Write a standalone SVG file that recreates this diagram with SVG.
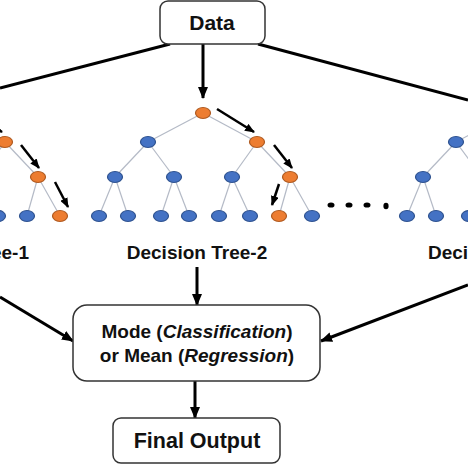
<svg xmlns="http://www.w3.org/2000/svg" width="468" height="468" viewBox="0 0 468 468">
<defs>
<marker id="ah" markerUnits="userSpaceOnUse" markerWidth="12" markerHeight="10" refX="11" refY="5" orient="auto">
<path d="M0,0 L12,5 L0,10 z" fill="#000"/>
</marker>
<marker id="ahs" markerUnits="userSpaceOnUse" markerWidth="10" markerHeight="8" refX="9" refY="4" orient="auto">
<path d="M0,0 L10,4 L0,8 z" fill="#000"/>
</marker>
<style>
.box{fill:#fff;stroke:#333;stroke-width:1.5}
.lbl{font-family:"Liberation Sans",Arial,sans-serif;font-weight:bold;fill:#111;text-anchor:middle}
.con{stroke:#000;stroke-width:3;fill:none}
.ta{stroke:#000;stroke-width:2.5;fill:none;marker-end:url(#ahs)}
.e{stroke:#b4bac6;stroke-width:1.2}
.b{fill:#4472c4;stroke:#2f528f;stroke-width:1.2}
.o{fill:#ed7d31;stroke:#ae5a21;stroke-width:1.2}
.dot{fill:#000}
</style>
</defs>
<rect width="468" height="468" fill="#fff"/>

<g id="connectors">
<line class="con" x1="170" y1="44" x2="0" y2="88"/>
<line class="con" x1="258" y1="44" x2="468" y2="100"/>
<line class="con" x1="203" y1="44" x2="203" y2="98" marker-end="url(#ah)"/>
<line class="con" x1="0" y1="297" x2="73" y2="341" marker-end="url(#ah)"/>
<line class="con" x1="468" y1="285" x2="321" y2="341" marker-end="url(#ah)"/>
<line class="con" x1="197" y1="267" x2="197" y2="305" marker-end="url(#ah)"/>
<line class="con" x1="195" y1="381" x2="195" y2="418" marker-end="url(#ah)"/>
</g>

<g id="data">
<rect class="box" x="160" y="1" width="105" height="43" rx="8"/>
<text class="lbl" x="212" y="30" font-size="21">Data</text>
</g>

<g id="tree1">
<g class="e">
<line x1="-49" y1="113" x2="5" y2="142"/>
<line x1="5" y1="142" x2="-20" y2="177"/>
<line x1="5" y1="142" x2="38" y2="177"/>
<line x1="-20" y1="177" x2="-2" y2="216"/>
<line x1="38" y1="177" x2="27" y2="216"/>
<line x1="38" y1="177" x2="60" y2="216"/>
</g>
<ellipse class="o" cx="5" cy="142" rx="7.5" ry="5.5"/>
<ellipse class="o" cx="38" cy="177" rx="7.5" ry="5.5"/>
<ellipse class="b" cx="-2" cy="216" rx="7.5" ry="5.5"/>
<ellipse class="b" cx="27" cy="216" rx="7.5" ry="5.5"/>
<ellipse class="o" cx="60" cy="216" rx="7.5" ry="5.5"/>
<line class="ta" x1="-35" y1="109" x2="2" y2="132"/>
<line class="ta" x1="21" y1="145" x2="39" y2="168"/>
<line class="ta" x1="55" y1="182" x2="68" y2="207"/>
<text class="lbl" x="29" y="259" font-size="19" style="text-anchor:end">ee-1</text>
</g>

<g id="tree2">
<g class="e">
<line x1="203" y1="113" x2="148" y2="142"/>
<line x1="203" y1="113" x2="257" y2="142"/>
<line x1="148" y1="142" x2="115" y2="177"/>
<line x1="148" y1="142" x2="174" y2="177"/>
<line x1="257" y1="142" x2="232" y2="177"/>
<line x1="257" y1="142" x2="290" y2="177"/>
<line x1="115" y1="177" x2="99" y2="216"/>
<line x1="115" y1="177" x2="128" y2="216"/>
<line x1="174" y1="177" x2="161" y2="216"/>
<line x1="174" y1="177" x2="189" y2="216"/>
<line x1="232" y1="177" x2="219" y2="216"/>
<line x1="232" y1="177" x2="250" y2="216"/>
<line x1="290" y1="177" x2="279" y2="216"/>
<line x1="290" y1="177" x2="312" y2="216"/>
</g>
<ellipse class="o" cx="203" cy="113" rx="7.5" ry="5.5"/>
<ellipse class="b" cx="148" cy="142" rx="7.5" ry="5.5"/>
<ellipse class="o" cx="257" cy="142" rx="7.5" ry="5.5"/>
<ellipse class="b" cx="115" cy="177" rx="7.5" ry="5.5"/>
<ellipse class="b" cx="174" cy="177" rx="7.5" ry="5.5"/>
<ellipse class="b" cx="232" cy="177" rx="7.5" ry="5.5"/>
<ellipse class="o" cx="290" cy="177" rx="7.5" ry="5.5"/>
<ellipse class="b" cx="99" cy="216" rx="7.5" ry="5.5"/>
<ellipse class="b" cx="128" cy="216" rx="7.5" ry="5.5"/>
<ellipse class="b" cx="161" cy="216" rx="7.5" ry="5.5"/>
<ellipse class="b" cx="189" cy="216" rx="7.5" ry="5.5"/>
<ellipse class="b" cx="219" cy="216" rx="7.5" ry="5.5"/>
<ellipse class="b" cx="250" cy="216" rx="7.5" ry="5.5"/>
<ellipse class="o" cx="279" cy="216" rx="7.5" ry="5.5"/>
<ellipse class="b" cx="312" cy="216" rx="7.5" ry="5.5"/>
<line class="ta" x1="217" y1="109" x2="254" y2="132"/>
<line class="ta" x1="274" y1="145" x2="292" y2="168"/>
<line class="ta" x1="279" y1="184" x2="272" y2="205"/>
<text class="lbl" x="197" y="259" font-size="19">Decision Tree-2</text>
</g>

<g id="ellipsis">
<ellipse class="dot" cx="331" cy="205" rx="3.5" ry="2.6"/>
<ellipse class="dot" cx="349" cy="205" rx="3.5" ry="2.6"/>
<ellipse class="dot" cx="367" cy="205" rx="3.5" ry="2.6"/>
<ellipse class="dot" cx="386" cy="206" rx="2.6" ry="3.2"/>
</g>

<g id="tree3">
<g class="e">
<line x1="511" y1="113" x2="456" y2="142"/>
<line x1="456" y1="142" x2="423" y2="177"/>
<line x1="456" y1="142" x2="482" y2="177"/>
<line x1="423" y1="177" x2="407" y2="216"/>
<line x1="423" y1="177" x2="436" y2="216"/>
<line x1="482" y1="177" x2="469" y2="216"/>
</g>
<ellipse class="b" cx="456" cy="142" rx="7.5" ry="5.5"/>
<ellipse class="b" cx="423" cy="177" rx="7.5" ry="5.5"/>
<ellipse class="b" cx="407" cy="216" rx="7.5" ry="5.5"/>
<ellipse class="b" cx="436" cy="216" rx="7.5" ry="5.5"/>
<ellipse class="b" cx="469" cy="216" rx="7.5" ry="5.5"/>
<text class="lbl" x="428" y="259" font-size="19" style="text-anchor:start">Deci</text>
</g>

<g id="aggregate">
<rect class="box" x="73" y="305" width="247" height="76" rx="14"/>
<text class="lbl" x="197" y="338" font-size="19">Mode (<tspan font-style="italic">Classification</tspan>)</text>
<text class="lbl" x="197" y="362" font-size="19">or Mean (<tspan font-style="italic">Regression</tspan>)</text>
</g>

<g id="final">
<rect class="box" x="113" y="418" width="167" height="45" rx="8"/>
<text class="lbl" x="197" y="448" font-size="21.5">Final Output</text>
</g>
</svg>
